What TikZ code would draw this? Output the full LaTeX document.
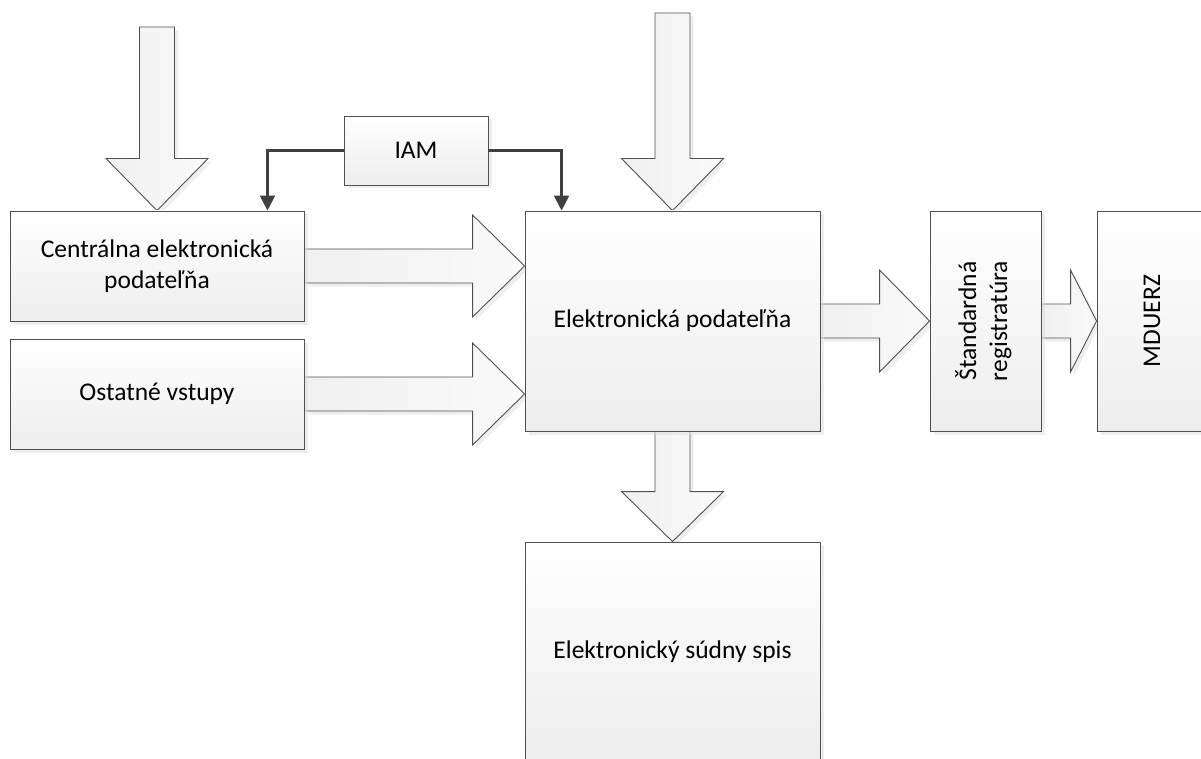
\documentclass[tikz,border=0pt]{standalone}
\usepackage{fontspec}
\setmainfont{Carlito}
\usepackage{graphicx}
\usetikzlibrary{arrows.meta,calc,shadows,backgrounds}
\definecolor{edgecol}{HTML}{505050}
\definecolor{conncol}{HTML}{404040}
\definecolor{shadowcol}{HTML}{DEDEDE}
\newcommand\HArrow[3]{%
  \draw[barrow] ($(#1)+(0,-17)$) -- ($(#2)+(-#3,-17)$) -- ($(#2)+(-#3,-51)$) -- (#2)
    -- ($(#2)+(-#3,51)$) -- ($(#2)+(-#3,17)$) -- ($(#1)+(0,17)$) -- cycle;}
\newcommand\VArrow[3]{%
  \draw[barrow] ($(#1)+(-17.5,0)$) -- ($(#2)+(-17.5,-#3)$) -- ($(#2)+(-51,-#3)$) -- (#2)
    -- ($(#2)+(51,-#3)$) -- ($(#2)+(17.5,-#3)$) -- ($(#1)+(17.5,0)$) -- cycle;}
\begin{document}
\begin{tikzpicture}[x=1pt,y=-1pt,
  box/.style={draw=edgecol, line width=0.9pt, top color=white, bottom color=black!7,
    drop shadow={shadow xshift=3.5pt, shadow yshift=-3.5pt, fill=shadowcol},
    inner sep=0pt, align=center, font=\fontsize{25.5}{31}\selectfont, text=black},
  barrow/.style={draw=edgecol, line width=0.9pt, left color=black!6, right color=white!98!black,
    drop shadow={shadow xshift=3.5pt, shadow yshift=-3.5pt, fill=shadowcol}},
  conn/.style={draw=conncol, line width=2.2pt, -{Triangle[length=15pt,width=15pt]}}]
\clip (0,0) rectangle (1201,759);

\node[box, minimum width=294pt, minimum height=110pt] (cep) at (157,266) {Centrálna elektronická\\podateľňa};
\node[box, minimum width=294pt, minimum height=110pt] (ost) at (157,394) {Ostatné vstupy};
\node[box, minimum width=144pt, minimum height=69pt] (iam) at (416,150.5) {IAM};
\node[box, minimum width=295pt, minimum height=220pt] (ep) at (672.5,321) {Elektronická podateľňa};
\node[box, minimum width=295pt, minimum height=220pt] (spis) at (672.5,652) {Elektronický súdny spis};
\node[box, minimum width=111pt, minimum height=220pt] (std) at (985.5,321)
  {\rotatebox{90}{\begin{tabular}{@{}c@{}}Štandardná\\registratúra\end{tabular}}};
\node[box, minimum width=110pt, minimum height=220pt] (mduerz) at (1152,321) {\rotatebox{90}{MDUERZ}};

\coordinate (in1) at (157,27);
\coordinate (in2) at (672.5,13);
\coordinate (t1) at (ep.west |- cep.east);
\coordinate (t2) at (ep.west |- ost.east);

\begin{scope}[on background layer]
  \fill[white] (0,0) rectangle (1201,759);
  \VArrow{in1}{cep.north}{52}
  \VArrow{in2}{ep.north}{52}
  \VArrow{ep.south}{spis.north}{50}
  \HArrow{cep.east}{t1}{52}
  \HArrow{ost.east}{t2}{52}
  \HArrow{ep.east}{std.west}{50}
  \HArrow{std.east}{mduerz.west}{26}
\end{scope}

\draw[conn] (iam.west) -| ([xshift=-37pt]cep.north east);
\draw[conn] (iam.east) -| ([xshift=37pt]ep.north west);
\end{tikzpicture}
\end{document}
